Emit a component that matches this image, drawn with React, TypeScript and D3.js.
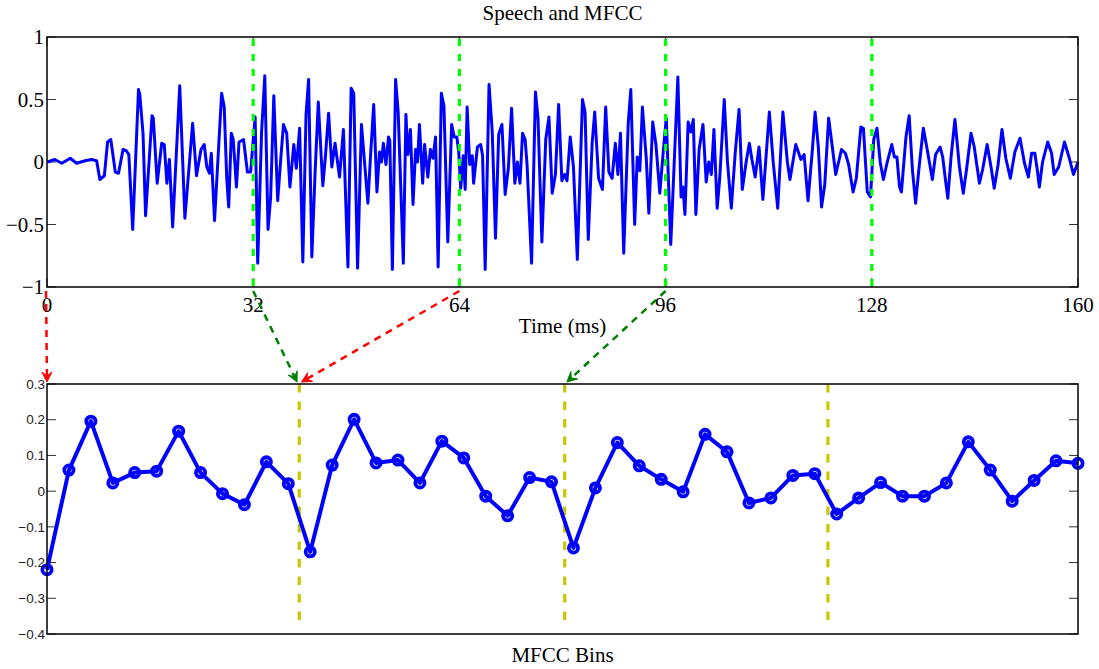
import React, { useRef, useEffect } from 'react';
import * as d3 from 'd3';

// speech waveform as [time (ms), amplitude] turning points
const speechSamples: [number, number][] = [
  [0.1, 0.0], [1.2, 0.02], [2.3, -0.01], [3.6, 0.03], [4.6, -0.01], [5.9, 0.01], [6.9, 0.02], [7.7, 0.01],
  [8.2, -0.14], [8.9, -0.11], [9.4, 0.16], [9.9, 0.18], [10.6, -0.08], [11.1, -0.09], [11.8, 0.1], [12.3, 0.09],
  [12.7, 0.06], [13.3, -0.54], [14.2, 0.58], [14.4, 0.54], [14.9, 0.23], [15.3, -0.43], [16.3, 0.37], [16.5, 0.35],
  [17.1, -0.17], [17.8, 0.15], [18.2, 0.14], [18.6, -0.17], [19.0, 0.02], [19.5, -0.52], [20.6, 0.61], [21.4, -0.45],
  [22.6, 0.31], [23.2, -0.11], [23.9, 0.1], [24.4, 0.14], [24.8, -0.04], [25.2, -0.09], [25.5, 0.07], [26.0, -0.47],
  [27.1, 0.55], [27.5, 0.44], [27.9, -0.14], [28.2, -0.36], [28.6, 0.23], [28.9, 0.18], [29.4, -0.2], [29.8, 0.16],
  [30.5, 0.18], [31.1, -0.08], [31.6, -0.08], [32.3, 0.36], [32.7, -0.81], [33.3, 0.24], [33.8, 0.69], [34.3, -0.54],
  [34.7, -0.29], [35.2, 0.53], [35.8, -0.31], [36.3, 0.04], [36.7, 0.3], [37.2, 0.23], [37.7, -0.2], [38.3, 0.14],
  [38.7, -0.05], [39.2, 0.27], [39.7, -0.8], [40.2, 0.38], [40.6, 0.66], [41.1, -0.76], [41.6, -0.09], [42.1, 0.48],
  [42.8, -0.19], [43.2, 0.04], [43.7, 0.39], [44.2, -0.04], [44.7, 0.15], [45.4, -0.12], [46.0, 0.26], [46.7, -0.84],
  [47.2, 0.59], [47.6, 0.55], [48.2, -0.85], [48.8, 0.3], [49.8, -0.33], [50.2, 0.04], [50.7, 0.46], [51.2, -0.24],
  [51.6, 0.08], [51.9, 0.0], [52.2, 0.15], [52.6, -0.02], [53.0, 0.2], [53.2, 0.17], [53.6, -0.86], [54.1, 0.66],
  [54.5, 0.4], [55.3, -0.81], [55.7, 0.38], [56.0, 0.06], [56.4, 0.26], [56.8, -0.34], [57.2, 0.1], [57.5, 0.0],
  [57.8, 0.3], [58.3, -0.17], [58.6, 0.14], [59.1, -0.12], [59.5, 0.1], [59.9, 0.03], [60.3, 0.2], [60.7, -0.84],
  [61.2, 0.55], [61.6, 0.45], [62.2, -0.64], [62.8, 0.3], [63.2, 0.2], [63.6, 0.2], [63.9, 0.08], [64.2, -0.21],
  [64.6, 0.05], [64.9, -0.22], [65.2, 0.44], [65.6, -0.02], [66.0, 0.05], [66.2, -0.17], [66.8, 0.12], [67.3, 0.14],
  [67.6, 0.05], [68.0, -0.86], [68.6, 0.62], [69.1, 0.24], [69.6, -0.61], [70.1, 0.22], [70.6, 0.3], [71.1, -0.26],
  [71.6, -0.05], [72.1, 0.43], [72.6, -0.17], [73.0, 0.0], [73.4, -0.17], [73.8, 0.23], [74.2, 0.18], [74.5, -0.02],
  [75.2, -0.81], [75.8, 0.56], [76.2, 0.35], [76.8, -0.64], [77.4, 0.18], [77.9, 0.36], [78.4, -0.25], [78.9, -0.1],
  [79.4, 0.46], [79.9, -0.15], [80.3, -0.1], [80.7, -0.15], [81.2, 0.2], [81.7, -0.04], [82.3, -0.78], [83.1, 0.5],
  [83.5, 0.4], [84.0, -0.62], [84.6, 0.15], [85.0, 0.4], [85.6, -0.13], [86.2, -0.22], [86.7, 0.44], [87.2, -0.08],
  [87.7, -0.13], [88.2, 0.15], [88.6, -0.1], [89.0, 0.23], [89.5, -0.73], [90.2, 0.31], [90.6, 0.58], [91.2, -0.5],
  [91.6, 0.04], [92.0, -0.07], [92.4, 0.44], [93.0, 0.03], [93.4, -0.41], [94.0, 0.32], [94.5, 0.14], [95.1, -0.25],
  [95.6, 0.06], [96.1, 0.35], [96.8, -0.66], [97.9, 0.68], [98.4, -0.28], [98.7, -0.2], [99.0, -0.42], [99.5, 0.32],
  [99.9, 0.24], [100.3, 0.34], [100.7, -0.42], [101.2, 0.1], [101.8, 0.3], [102.3, -0.16], [102.7, 0.0], [103.1, -0.1],
  [103.5, 0.26], [104.0, -0.37], [104.4, -0.13], [105.1, 0.5], [105.6, 0.0], [106.2, -0.37], [106.8, 0.07], [107.4, 0.42],
  [107.9, -0.22], [108.5, 0.0], [109.0, 0.15], [109.4, 0.02], [109.9, -0.12], [110.5, 0.12], [111.1, -0.3], [112.1, 0.4],
  [112.7, 0.0], [113.4, -0.37], [114.2, 0.4], [114.9, 0.0], [115.3, -0.14], [116.2, 0.14], [117.0, 0.02], [117.5, 0.06],
  [118.1, -0.31], [118.8, 0.11], [119.2, 0.4], [119.7, 0.12], [120.2, -0.36], [120.7, -0.18], [121.3, 0.35], [121.8, 0.15],
  [122.4, -0.1], [123.3, 0.1], [123.9, 0.07], [124.4, -0.02], [125.1, -0.24], [125.6, -0.13], [126.3, 0.28], [126.7, 0.27],
  [127.3, -0.24], [127.8, -0.28], [128.3, 0.18], [128.8, 0.27], [129.3, 0.0], [129.8, -0.14], [130.4, 0.0], [131.1, 0.14],
  [131.5, 0.04], [131.9, 0.04], [132.3, -0.2], [132.6, -0.24], [133.3, 0.2], [133.8, 0.37], [134.3, -0.06], [134.8, -0.33],
  [135.3, -0.06], [136.0, 0.27], [136.6, 0.1], [137.4, -0.14], [137.9, 0.06], [138.6, 0.12], [139.0, 0.04], [139.5, -0.17],
  [139.8, -0.29], [140.3, 0.04], [140.9, 0.34], [141.6, -0.04], [142.2, -0.25], [142.7, -0.06], [143.4, 0.23], [143.9, 0.12],
  [144.7, -0.17], [145.2, -0.06], [145.9, 0.14], [146.5, -0.04], [147.0, -0.21], [147.6, -0.02], [148.2, 0.26], [148.8, 0.03],
  [149.5, -0.13], [150.2, 0.08], [151.0, 0.19], [151.7, -0.01], [152.3, -0.12], [152.8, 0.07], [153.3, 0.07], [153.7, -0.07],
  [154.0, -0.2], [154.5, 0.0], [155.3, 0.16], [155.9, 0.07], [156.3, -0.1], [157.0, -0.04], [157.9, 0.16], [158.6, 0.04],
  [159.3, -0.1], [160.0, 0.0],
];

// 4 frames x 12 coefficients
const mfccCoeffs = [
  -0.22, 0.059, 0.196, 0.023, 0.052, 0.056, 0.168, 0.052, -0.007, -0.038, 0.082, 0.021,
  -0.17, 0.073, 0.201, 0.079, 0.087, 0.023, 0.14, 0.093, -0.014, -0.069, 0.038, 0.026,
  -0.159, 0.009, 0.136, 0.071, 0.033, -0.002, 0.159, 0.11, -0.033, -0.019, 0.044, 0.049,
  -0.064, -0.019, 0.024, -0.014, -0.014, 0.023, 0.138, 0.059, -0.028, 0.03, 0.085, 0.078,
];

const frameMarksMs = [32, 64, 96, 128];
const binMarks = [12.5, 24.6, 36.6];
const timeTicks = [0, 32, 64, 96, 128, 160];
const ampTicks = [-1, -0.5, 0, 0.5, 1];
const mfccTicks = [-0.4, -0.3, -0.2, -0.1, 0, 0.1, 0.2, 0.3];

// frame-to-bins arrows
const linkFromMs = [0, 32, 64, 96];
const linkToBin = [1, 12.4, 12.6, 24.7];
const linkColors = ['#ff0000', '#007f00', '#ff0000', '#007f00'];

const serif = "'Liberation Serif', 'Times New Roman', serif";
const sans = "'Liberation Sans', Arial, sans-serif";
const fmt = (v: number) => String(v).replace('-', '\u2212');

const App: React.FC = () => {
  const width = 1099;
  const height = 669;
  const svgRef = useRef<SVGSVGElement | null>(null);

  useEffect(() => {
    const svg = d3.select(svgRef.current);
    svg.selectAll('*').remove();

    const left = 47;
    const right = 1078;
    const topBox = { y0: 37, y1: 287 };
    const botBox = { y0: 384, y1: 634 };
    const tickLen = 9;

    const xTime = d3.scaleLinear().domain([0, 160]).range([left, right]);
    const yAmp = d3.scaleLinear().domain([-1, 1]).range([topBox.y1, topBox.y0]);
    const xBin = d3.scaleLinear().domain([1, 48]).range([left, right]);
    const yMfcc = d3.scaleLinear().domain([-0.4, 0.3]).range([botBox.y1, botBox.y0]);

    // ---------- top panel: speech ----------
    const top = svg.append('g');

    top.append('text')
      .attr('x', (left + right) / 2)
      .attr('y', 20)
      .attr('text-anchor', 'middle')
      .attr('font-family', serif)
      .attr('font-size', 21)
      .text('Speech and MFCC');

    // ticks, inward on both sides
    ampTicks.forEach(v => {
      top.append('line').attr('x1', left).attr('x2', left + tickLen)
        .attr('y1', yAmp(v)).attr('y2', yAmp(v)).attr('stroke', '#333').attr('stroke-width', 1);
      top.append('line').attr('x1', right - tickLen).attr('x2', right)
        .attr('y1', yAmp(v)).attr('y2', yAmp(v)).attr('stroke', '#333').attr('stroke-width', 1);
    });
    timeTicks.forEach(t => {
      top.append('line').attr('x1', xTime(t)).attr('x2', xTime(t))
        .attr('y1', topBox.y1).attr('y2', topBox.y1 - tickLen).attr('stroke', '#333').attr('stroke-width', 1);
      top.append('line').attr('x1', xTime(t)).attr('x2', xTime(t))
        .attr('y1', topBox.y0).attr('y2', topBox.y0 + tickLen).attr('stroke', '#333').attr('stroke-width', 1);
    });

    const speechLine = d3.line<[number, number]>()
      .x(d => xTime(d[0]))
      .y(d => yAmp(d[1]));

    top.append('path')
      .datum(speechSamples)
      .attr('d', speechLine)
      .attr('fill', 'none')
      .attr('stroke', '#0000ff')
      .attr('stroke-width', 3)
      .attr('stroke-linejoin', 'round');

    // frame boundaries
    top.selectAll('.frame')
      .data(frameMarksMs)
      .enter()
      .append('line')
      .attr('x1', d => xTime(d)).attr('x2', d => xTime(d))
      .attr('y1', topBox.y0 + 2).attr('y2', topBox.y1)
      .attr('stroke', '#00ff00')
      .attr('stroke-width', 3.2)
      .attr('stroke-dasharray', '7,8');

    top.append('rect')
      .attr('x', left).attr('y', topBox.y0)
      .attr('width', right - left).attr('height', topBox.y1 - topBox.y0)
      .attr('fill', 'none').attr('stroke', '#000').attr('stroke-width', 1.5);

    top.selectAll('.ylab')
      .data(ampTicks)
      .enter()
      .append('text')
      .attr('x', left - 3)
      .attr('y', d => yAmp(d))
      .attr('dy', '0.35em')
      .attr('text-anchor', 'end')
      .attr('font-family', serif)
      .attr('font-size', 21)
      .text(d => fmt(d));

    top.selectAll('.xlab')
      .data(timeTicks)
      .enter()
      .append('text')
      .attr('x', d => xTime(d))
      .attr('y', 312)
      .attr('text-anchor', 'middle')
      .attr('font-family', serif)
      .attr('font-size', 21)
      .text(d => String(d));

    top.append('text')
      .attr('x', (left + right) / 2)
      .attr('y', 333)
      .attr('text-anchor', 'middle')
      .attr('font-family', serif)
      .attr('font-size', 21)
      .text('Time (ms)');

    // ---------- bottom panel: MFCC ----------
    const bot = svg.append('g');

    mfccTicks.forEach(v => {
      bot.append('line').attr('x1', left).attr('x2', left + tickLen)
        .attr('y1', yMfcc(v)).attr('y2', yMfcc(v)).attr('stroke', '#333').attr('stroke-width', 1);
      bot.append('line').attr('x1', right - tickLen).attr('x2', right)
        .attr('y1', yMfcc(v)).attr('y2', yMfcc(v)).attr('stroke', '#333').attr('stroke-width', 1);
    });

    bot.selectAll('.bin')
      .data(binMarks)
      .enter()
      .append('line')
      .attr('x1', d => xBin(d)).attr('x2', d => xBin(d))
      .attr('y1', botBox.y0).attr('y2', botBox.y1 - 6)
      .attr('stroke', '#c8c800')
      .attr('stroke-width', 3.2)
      .attr('stroke-dasharray', '8.5,9');

    const mfccLine = d3.line<number>()
      .x((d, i) => xBin(i + 1))
      .y(d => yMfcc(d));

    bot.append('path')
      .datum(mfccCoeffs)
      .attr('d', mfccLine)
      .attr('fill', 'none')
      .attr('stroke', '#0000ff')
      .attr('stroke-width', 4)
      .attr('stroke-linejoin', 'round');

    bot.selectAll('circle')
      .data(mfccCoeffs)
      .enter()
      .append('circle')
      .attr('cx', (d, i) => xBin(i + 1))
      .attr('cy', d => yMfcc(d))
      .attr('r', 4.6)
      .attr('fill', 'none')
      .attr('stroke', '#0000ff')
      .attr('stroke-width', 3.8);

    bot.append('rect')
      .attr('x', left).attr('y', botBox.y0)
      .attr('width', right - left).attr('height', botBox.y1 - botBox.y0)
      .attr('fill', 'none').attr('stroke', '#000').attr('stroke-width', 1.5);

    bot.selectAll('.ylab')
      .data(mfccTicks)
      .enter()
      .append('text')
      .attr('x', left - 2)
      .attr('y', d => yMfcc(d))
      .attr('dy', '0.35em')
      .attr('text-anchor', 'end')
      .attr('font-family', sans)
      .attr('font-size', 13.5)
      .attr('fill', '#222')
      .text(d => fmt(d));

    bot.append('text')
      .attr('x', (left + right) / 2)
      .attr('y', 662)
      .attr('text-anchor', 'middle')
      .attr('font-family', serif)
      .attr('font-size', 21)
      .text('MFCC Bins');

    // ---------- arrows from frames to bins ----------
    const arrows = svg.append('g');
    linkFromMs.forEach((t, i) => {
      const x1 = xTime(t) - (t === 0 ? 1 : 0);
      const y1 = topBox.y1 + 4;
      const x2 = xBin(linkToBin[i]);
      const y2 = botBox.y0 - 2;
      const color = linkColors[i];
      const ang = Math.atan2(y2 - y1, x2 - x1);
      const len = Math.hypot(x2 - x1, y2 - y1);
      arrows.append('line')
        .attr('x1', x1).attr('y1', y1)
        .attr('x2', x1 + Math.cos(ang) * (len - 5)).attr('y2', y1 + Math.sin(ang) * (len - 5))
        .attr('stroke', color)
        .attr('stroke-width', 2.5)
        .attr('stroke-dasharray', '7,6');
      // notched head
      const head = d3.path();
      const pt = (back: number, side: number): [number, number] => [
        x2 - Math.cos(ang) * back - Math.sin(ang) * side,
        y2 - Math.sin(ang) * back + Math.cos(ang) * side,
      ];
      const a = pt(10, 5);
      const b = pt(6, 0);
      const c = pt(10, -5);
      head.moveTo(x2, y2);
      head.lineTo(a[0], a[1]);
      head.lineTo(b[0], b[1]);
      head.lineTo(c[0], c[1]);
      head.closePath();
      arrows.append('path').attr('d', head.toString()).attr('fill', color).attr('stroke', color).attr('stroke-width', 1);
    });
  }, []);

  return (
    <svg
      ref={svgRef}
      width={width}
      height={height}
      style={{ position: 'absolute', left: 0, top: 0, background: '#fff' }}
    />
  );
};

export default App;
